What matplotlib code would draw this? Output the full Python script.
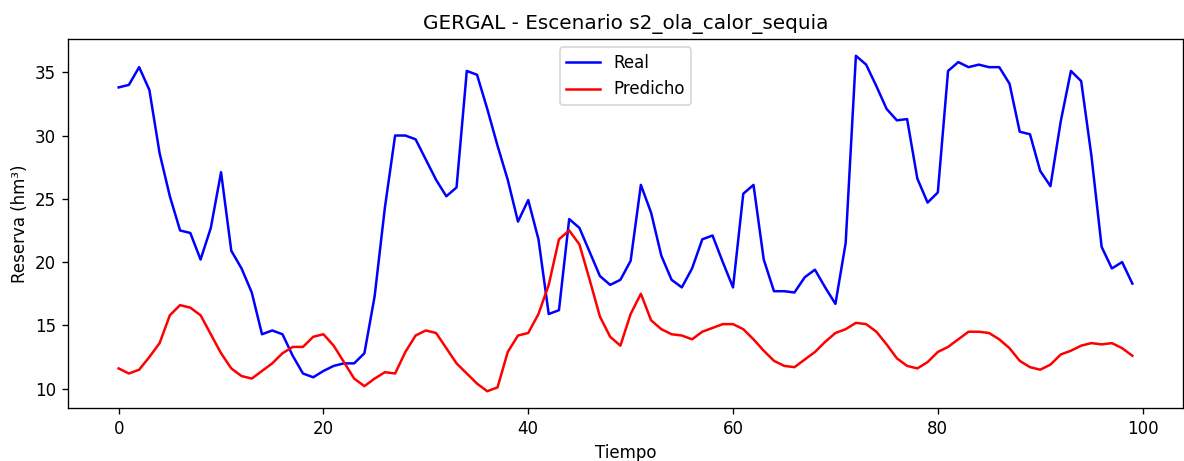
import numpy as np
import matplotlib
matplotlib.use('Agg')
import matplotlib.pyplot as plt

# Valores
real = [33.8, 34.0, 35.4, 33.6, 28.6, 25.2, 22.5, 22.3, 20.2, 22.7,
        27.1, 20.9, 19.5, 17.6, 14.3, 14.6, 14.3, 12.6, 11.2, 10.9,
        11.4, 11.8, 12.0, 12.0, 12.8, 17.3, 24.3, 30.0, 30.0, 29.7,
        28.1, 26.5, 25.2, 25.9, 35.1, 34.8, 32.1, 29.2, 26.5, 23.2,
        24.9, 21.8, 15.9, 16.2, 23.4, 22.7, 20.8, 18.9, 18.2, 18.6,
        20.1, 26.1, 23.9, 20.5, 18.6, 18.0, 19.5, 21.8, 22.1, 20.0,
        18.0, 25.4, 26.1, 20.2, 17.7, 17.7, 17.6, 18.8, 19.4, 18.0,
        16.7, 21.5, 36.3, 35.6, 33.9, 32.1, 31.2, 31.3, 26.6, 24.7,
        25.5, 35.1, 35.8, 35.4, 35.6, 35.4, 35.4, 34.1, 30.3, 30.1,
        27.2, 26.0, 31.1, 35.1, 34.3, 28.4, 21.2, 19.5, 20.0, 18.3]

predicho = [11.6, 11.2, 11.5, 12.5, 13.6, 15.8, 16.6, 16.4, 15.8, 14.3,
            12.8, 11.6, 11.0, 10.8, 11.4, 12.0, 12.8, 13.3, 13.3, 14.1,
            14.3, 13.4, 12.1, 10.8, 10.2, 10.8, 11.3, 11.2, 12.9, 14.2,
            14.6, 14.4, 13.2, 12.0, 11.2, 10.4, 9.8, 10.1, 12.9, 14.2,
            14.4, 15.9, 18.2, 21.8, 22.5, 21.4, 18.6, 15.7, 14.1, 13.4,
            15.9, 17.5, 15.4, 14.7, 14.3, 14.2, 13.9, 14.5, 14.8, 15.1,
            15.1, 14.7, 13.9, 13.0, 12.2, 11.8, 11.7, 12.3, 12.9, 13.7,
            14.4, 14.7, 15.2, 15.1, 14.5, 13.5, 12.4, 11.8, 11.6, 12.1,
            12.9, 13.3, 13.9, 14.5, 14.5, 14.4, 13.9, 13.2, 12.2, 11.7,
            11.5, 11.9, 12.7, 13.0, 13.4, 13.6, 13.5, 13.6, 13.2, 12.6]

tiempo = np.arange(len(real))

# el original parece guardado a dpi 120 (texto y lineas 1.2x mas grandes)
fig = plt.figure(figsize=(1184 / 120, 461 / 120), dpi=120)
ax = fig.add_subplot(111)

ax.plot(tiempo, real, color='blue', label='Real')
ax.plot(tiempo, predicho, color='red', label='Predicho')

ax.set_title('GERGAL - Escenario s2_ola_calor_sequia')
ax.set_xlabel('Tiempo')
ax.set_ylabel('Reserva (hm³)')
ax.legend(loc='upper center')

fig.subplots_adjust(left=0.0574, right=0.9992, top=0.9154, bottom=0.115)
fig.savefig('out.png', dpi=120)
